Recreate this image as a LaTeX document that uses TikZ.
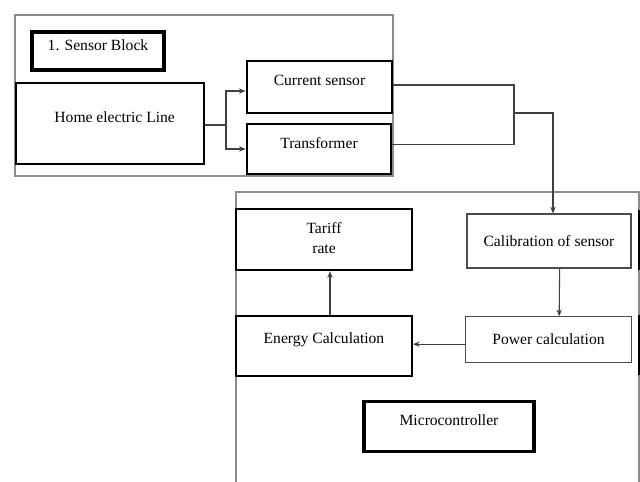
\documentclass[tikz,border=0pt]{standalone}
\usepackage{fontspec}
\setmainfont{Liberation Serif}
\usepackage{tikz}
\usetikzlibrary{positioning}
\usetikzlibrary{calc}
\usetikzlibrary{arrows.meta}

\newcommand{\lifted}[2]{\raisebox{#1}[\height][\depth]{#2}}

\begin{document}
\begin{tikzpicture}[x=0.75pt,y=-0.75pt,
      font=\fontsize{11.7}{13.5}\selectfont,
      frameblock/.style={draw=black!45,line width=1.5pt},
      elementblock/.style={draw,rectangle,line width=1.5pt,inner sep=0pt},
      heavyblock/.style={elementblock,line width=2.4pt},
      lightblock/.style={elementblock,draw=black!70,line width=0.9pt},
      link/.style={draw=black!75,line width=0.8pt}]
      \useasboundingbox (0,0) rectangle (640,482);

      % Frames
      \draw[frameblock] (15,15) rectangle (393,176);
      \draw[frameblock] (236,490) -- (236,192) -- (639,192) -- (639,490);
      \draw[line width=1.6pt] (639,210) -- (639,270) (639,315) -- (639,375);

      % Blocks
      \node[heavyblock,minimum width=99pt,minimum height=28.5pt]  at (98,51)      (sensorblock) {\lifted{4pt}{1. Sensor Block}};
      \node[elementblock,minimum width=141pt,minimum height=61pt] at (110,123.5)  (homeline)    {\lifted{5pt}{\hspace{7pt}Home electric Line}};
      \node[elementblock,line width=1.9pt,minimum width=109pt,minimum height=39pt] at (319.5,87) (cursensor) {\lifted{5pt}{Current sensor}};
      \node[elementblock,line width=1.9pt,minimum width=108pt,minimum height=37.5pt] at (319,149) (transformer) {\lifted{4.5pt}{Transformer}};
      \node[lightblock,minimum width=123pt,minimum height=40.5pt] at (549,241)    (calibration) {Calibration of sensor};
      \node[lightblock,minimum width=125pt,minimum height=34pt]   at (548.5,339.5) (powercalc) {Power calculation};
      \node[elementblock,minimum width=132pt,minimum height=45pt] at (324,346)    (energycalc)  {\lifted{5pt}{Energy Calculation}};
      \node[elementblock,minimum width=132pt,minimum height=46pt,align=center] at (324,239.5) (tariff) {\lifted{1.5pt}{Tariff}\\rate};
      \node[heavyblock,minimum width=127.5pt,minimum height=38pt] at (449,426.5)  (micro)       {\lifted{5pt}{Microcontroller}};

      % Arrows
      \coordinate (fork) at (226,125);
      \coordinate (join) at (514,113);
      \draw[link] (homeline.east |- fork) -- (fork);
      \draw[link,-{Stealth[length=5pt,width=4pt]}] (fork) |- ([yshift=-3pt]cursensor.west);
      \draw[link,-{Stealth[length=5pt,width=4pt]}] (fork) |- (transformer.west);
      \draw[link] ([yshift=1.5pt]cursensor.east) -| (join);
      \draw[link] ([yshift=3.5pt]transformer.east) -| (join);
      \draw[link,-{Stealth[length=5pt,width=4pt]}] (join) -| ([xshift=3pt]calibration.north);
      \draw[link,-{Stealth[length=5pt,width=4pt]}] ([xshift=8pt]calibration.south) -- ([xshift=8pt]powercalc.north);
      \draw[link,-{Stealth[length=5pt,width=4pt]}] ([yshift=-3.5pt]powercalc.west) -- ([yshift=-3.5pt]powercalc.west -| energycalc.east);
      \draw[link,-{Stealth[length=5pt,width=4pt]}] ([xshift=4.5pt]energycalc.north) -- ([xshift=4.5pt]tariff.south);

    \end{tikzpicture}
\end{document}
